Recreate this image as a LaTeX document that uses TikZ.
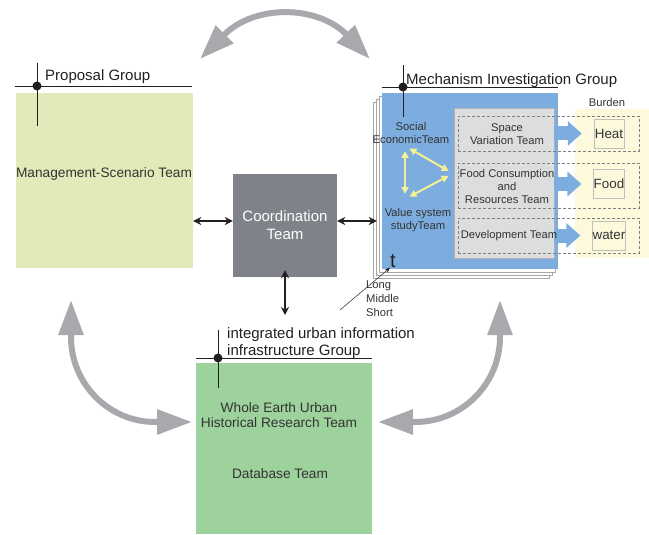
\documentclass[tikz,border=0pt]{standalone}
\usepackage{fontspec}
\setmainfont{Liberation Sans}
\usetikzlibrary{arrows.meta}
\definecolor{propfill}{RGB}{226,234,185}
\definecolor{infrafill}{RGB}{157,210,157}
\definecolor{mechfill}{RGB}{125,173,222}
\definecolor{coordfill}{RGB}{128,130,137}
\definecolor{innerfill}{RGB}{220,221,223}
\definecolor{burdenfill}{RGB}{253,249,220}
\definecolor{bigarrow}{RGB}{167,169,172}
\definecolor{yarrow}{RGB}{243,240,150}
\definecolor{txt}{RGB}{51,51,51}
\definecolor{ink}{RGB}{35,31,32}
\begin{document}
\begin{tikzpicture}
  [x=1pt,y=-1pt,every node/.style={inner sep=0pt,align=center,text=txt},
   grp/.style={font=\fontsize{15}{17}\selectfont,text=ink,anchor=base west,align=left},
   team/.style={font=\fontsize{13.7}{15.5}\selectfont},
   sm/.style={font=\fontsize{11.2}{13}\selectfont},
   bbox/.style={draw=gray!50,line width=0.5pt,minimum width=30pt,minimum height=29pt,
     font=\fontsize{13.4}{15}\selectfont},
   dsh/.style={draw=gray,line width=0.7pt,dash pattern=on 3pt off 2pt,minimum width=181pt},
   sheet/.style={draw=gray!70,fill=white,line width=0.5pt},
   blk/.style={draw=ink,line width=1.6pt,{Stealth[length=8pt,width=8pt]}-{Stealth[length=8pt,width=8pt]}},
   gry/.style={draw=bigarrow,line width=6pt,{Triangle[length=35pt,width=24pt]}-{Triangle[length=35pt,width=24pt]}},
   yar/.style={draw=yarrow,line width=2pt,shorten <=5pt,shorten >=5pt,
     {Triangle[length=7pt,width=7pt]}-{Triangle[length=7pt,width=7pt]}},
   bluarr/.style={draw=mechfill,line width=14pt,-{Triangle[length=14pt,width=24pt]}}]
  \useasboundingbox (0,0) rectangle (649,535);
  % big gray arrows between the groups
  \coordinate (ga1) at (200,59); \coordinate (ga2) at (370,59);
  \coordinate (gb1) at (71,300); \coordinate (gb2) at (192,422);
  \coordinate (gc1) at (500,300); \coordinate (gc2) at (378,422);
  \draw[gry] (ga1) -- (225,34) .. controls (255,5) and (315,5) .. (345,33) -- (ga2);
  \draw[gry] (gb1) -- (71,337) .. controls (71,384) and (109,422) .. (155,422) -- (gb2);
  \draw[gry] (gc1) -- (500,337) .. controls (500,384) and (462,422) .. (415,422) -- (gc2);
  % proposal group
  \node (prop)[fill=propfill,minimum width=177pt,minimum height=175pt] at (104.5,180.5) {};
  \node (mgmt)[team] at (104,174) {Management-Scenario Team};
  \draw[ink,line width=0.8pt] (15,86) -- (192,86) (37,63) -- (37,126);
  \fill[ink] (37,86) circle (4.5);
  \node (propt)[grp] at (45,81) {Proposal Group};
  % coordination
  \node (coord)[fill=coordfill,minimum width=104pt,minimum height=103pt,text=white,
    font=\fontsize{15}{18}\selectfont] at (285,225.5) {Coordination\\Team};
  % mechanism group
  \foreach \i in {3,2,1}
    \draw[sheet] (382-3*\i,93+3*\i) rectangle (558-3*\i,269+3*\i);
  \node (mech)[fill=mechfill,minimum width=176pt,minimum height=176pt] at (470,181) {};
  \node (burden)[fill=burdenfill,minimum width=75pt,minimum height=149pt] at (612.5,183.5) {};
  \node (inner)[fill=innerfill,draw=gray!60,line width=0.5pt,minimum width=100pt,
    minimum height=150pt] at (504,183) {};
  \draw[ink,line width=0.8pt] (382,87) -- (558,87) (403,65) -- (403,117);
  \fill[ink] (403,87) circle (4.5);
  \node (mecht)[grp] at (406,85) {Mechanism Investigation Group};
  \node (heat)[bbox] at (609,133.5) {Heat};
  \node (foodb)[bbox] at (609,184) {Food};
  \node (water)[bbox] at (609,235.5) {water};
  \foreach \b in {heat,foodb,water}
    \draw[bluarr] (inner.east |- \b.west) -- ([xshift=-12pt]\b.west);
  \node (row1)[dsh,minimum height=35pt] at (548.5,133.5) {};
  \node (row2)[dsh,minimum height=45pt] at (548.5,185.5) {};
  \node (row3)[dsh,minimum height=35pt] at (548.5,235.5) {};
  \node (space)[sm] at (507,134) {Space\\Variation Team};
  \node (food)[sm] at (507,186) {Food Consumption\\and\\Resources Team};
  \node (dev)[sm] at (509,236) {Development Team};
  \node (burt)[sm] at (607,102) {Burden};
  \node (soc)[sm] at (411,132.5) {Social\\EconomicTeam};
  \node (val)[sm] at (418,220) {Value system\\studyTeam};
  \coordinate (ya) at (405,146);
  \coordinate (yb) at (405,199);
  \coordinate (yc) at (453,173.5);
  \foreach \from/\to in {ya/yb,yb/yc,yc/ya}
    \draw[yar] (\from) -- (\to);
  \node (tt)[font=\fontsize{20}{20}\selectfont,text=ink] at (393,261) {t};
  \coordinate (tline) at (340,310);
  \draw[ink,line width=0.5pt,-{Stealth[length=5pt,width=4pt]}] (tline) -- (tt.south west);
  \node (lms)[font=\fontsize{11.2}{14}\selectfont,align=left,anchor=north west] at (366,281)
    {Long\\Middle\\Short};
  % infrastructure group
  \node (infra)[fill=infrafill,minimum width=176pt,minimum height=171pt] at (284,448.5) {};
  \draw[ink,line width=0.8pt] (196,358) -- (372,358) (218,330) -- (218,388);
  \fill[ink] (218,358) circle (4.5);
  \node (infrat)[grp] at (227,355) {integrated urban information\\infrastructure Group};
  \node (whole)[team] at (279,415) {Whole Earth Urban\\Historical Research Team};
  \node (db)[team] at (280,474) {Database Team};
  % links to coordination
  \coordinate (infratop) at (285,315);
  \draw[blk] (prop.east |- 0,221) -- (coord.west |- 0,221);
  \draw[blk] (coord.east |- 0,221) -- ([xshift=-5pt]mech.west |- 0,221);
  \draw[blk] ([yshift=7pt]coord.south) -- (infratop);
\end{tikzpicture}
\end{document}
